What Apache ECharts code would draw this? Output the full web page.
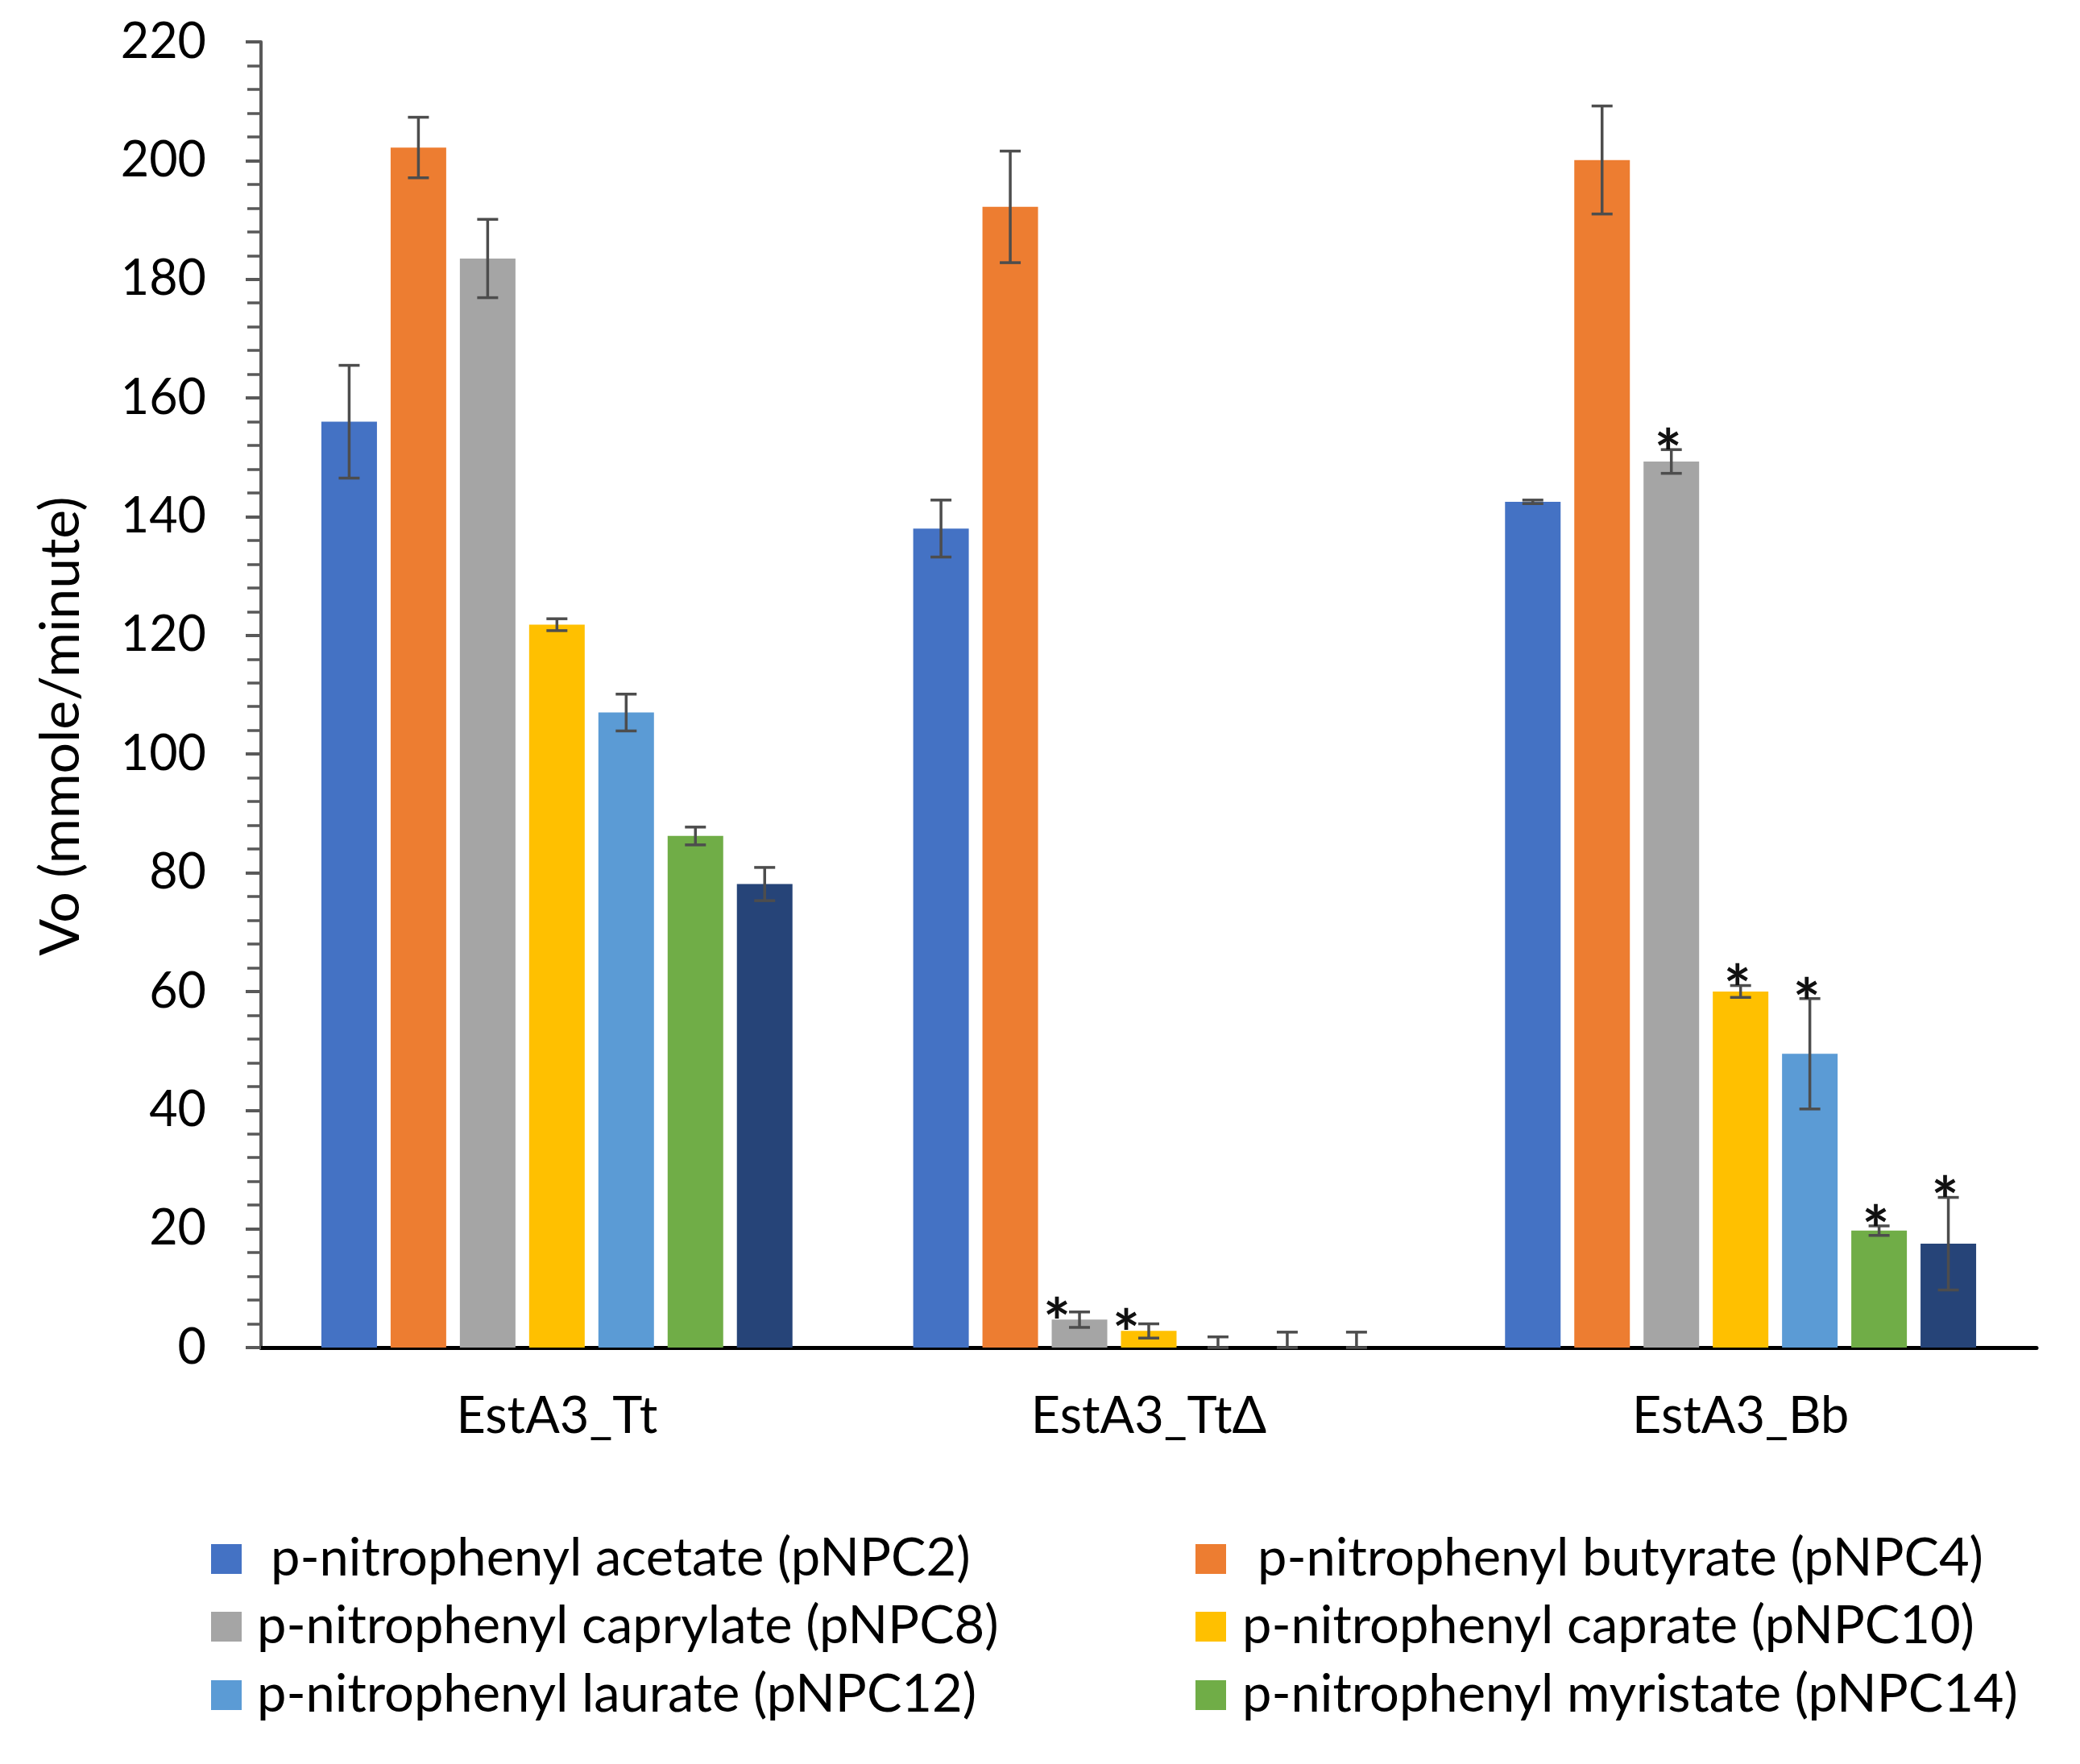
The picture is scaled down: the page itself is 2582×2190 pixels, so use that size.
<!DOCTYPE html>
<html>
<head>
<meta charset="utf-8">
<script src="https://cdn.jsdelivr.net/npm/echarts@6/dist/echarts.min.js"></script>
<style>html,body{margin:0;padding:0;background:#fff;}#chart{width:2582px;height:2190px;}</style>
</head>
<body>
<div id="chart"></div>
<script>
// ---- data ----
var categories = ['EstA3_Tt', 'EstA3_TtΔ', 'EstA3_Bb'];
var seriesNames = [
  'p-nitrophenyl acetate (pNPC2)',
  'p-nitrophenyl butyrate (pNPC4)',
  'p-nitrophenyl caprylate (pNPC8)',
  'p-nitrophenyl caprate (pNPC10)',
  'p-nitrophenyl laurate (pNPC12)',
  'p-nitrophenyl myristate (pNPC14)',
  'Series 7'
];
var valC2  = [156.0, 138.0, 142.5];
var valC4  = [202.2, 192.2, 200.1];
var valC8  = [183.5, 4.7, 149.3];
var valC10 = [121.8, 2.8, 60.0];
var valC12 = [107.0, 0.0, 49.5];
var valC14 = [86.2, 0.0, 19.7];
var valS7  = [78.1, 0.0, 17.5];

var errC2  = [9.5, 4.8, 0.3];
var errC4  = [5.1, 9.4, 9.1];
var errC8  = [6.6, 1.3, 2.0];
var errC10 = [1.0, 1.2, 1.0];
var errC12 = [3.1, 1.8, 9.3];
var errC14 = [1.5, 2.6, 0.8];
var errS7  = [2.8, 2.6, 7.8];

var starC2  = [0, 0, 0];
var starC4  = [0, 0, 0];
var starC8  = [0, 1, 1];
var starC10 = [0, 1, 1];
var starC12 = [0, 0, 1];
var starC14 = [0, 0, 1];
var starS7  = [0, 0, 1];

var yTicks = [0, 20, 40, 60, 80, 100, 120, 140, 160, 180, 200, 220];

var values = [valC2, valC4, valC8, valC10, valC12, valC14, valS7];
var errors = [errC2, errC4, errC8, errC10, errC12, errC14, errS7];
var stars  = [starC2, starC4, starC8, starC10, starC12, starC14, starS7];
var colors = ['#4472C4', '#ED7D31', '#A5A5A5', '#FFC000', '#5B9BD5', '#70AD47', '#264478'];

// ---- layout/style ----
var FONT = 'Lato';
var CAT_GAP = 0.204, BAR_GAP = 0.246, N = 7;

var series = [];
values.forEach(function (vals, i) {
  series.push({
    type: 'bar',
    name: seriesNames[i],
    data: vals,
    itemStyle: { color: colors[i] },
    barGap: (BAR_GAP * 100) + '%',
    barCategoryGap: (CAT_GAP * 100) + '%',
    z: 2
  });
});
values.forEach(function (vals, i) {
  var d = vals.map(function (v, c) {
    return [c, Math.max(0, v - errors[i][c]), v + errors[i][c], stars[i][c]];
  });
  series.push({
    type: 'custom',
    name: seriesNames[i] + ' err',
    data: d,
    encode: { x: 0, y: [1, 2] },
    z: 5,
    silent: true,
    renderItem: (function (si) {
      return function (params, api) {
        var c = api.value(0);
        var catW = api.size([1, 0])[0];
        var bw = catW * (1 - CAT_GAP) / (N + (N - 1) * BAR_GAP);
        var pitch = bw * (1 + BAR_GAP);
        var base = api.coord([c, 0]);
        var x = base[0] + (si - (N - 1) / 2) * pitch;
        var yl = api.coord([c, api.value(1)])[1];
        var yh = api.coord([c, api.value(2)])[1];
        var cap = 13;
        var st = { stroke: '#4d4d4d', lineWidth: 3.5 };
        var children = [
          { type: 'line', shape: { x1: x, y1: yl, x2: x, y2: yh }, style: st },
          { type: 'line', shape: { x1: x - cap, y1: yh, x2: x + cap, y2: yh }, style: st },
          { type: 'line', shape: { x1: x - cap, y1: yl, x2: x + cap, y2: yl }, style: st }
        ];
        if (api.value(3)) {
          var sx = x - 4, sy = yh + 8;
          if (c === 1) { sx = x - 28; sy = yh + 16; }
          children.push({
            type: 'text',
            style: { text: '*', x: sx, y: sy, align: 'center', verticalAlign: 'middle',
              font: 'bold 80px ' + FONT, fill: '#111' }
          });
        }
        return { type: 'group', children: children };
      };
    })(i)
  });
});

function legendItem(idx, left, top, padLeft) {
  return {
    data: [seriesNames[idx]],
    left: left, top: top, padding: 0,
    orient: 'vertical',
    icon: 'rect',
    itemWidth: 38, itemHeight: 37,
    selectedMode: false,
    textStyle: { fontFamily: FONT, fontSize: 65, lineHeight: 37, color: '#000', padding: [0, 0, 0, padLeft] }
  };
}

var option = {
  backgroundColor: '#fff',
  animation: false,
  grid: { left: 324, right: 54, top: 52, bottom: 517, containLabel: false },
  legend: [
    legendItem(0, 262, 1903, 31),
    legendItem(2, 262, 1987, 14),
    legendItem(4, 262, 2072, 14),
    legendItem(1, 1484, 1903, 34),
    legendItem(3, 1484, 1987, 15),
    legendItem(5, 1484, 2072, 15)
  ],
  xAxis: {
    type: 'category',
    data: categories,
    axisLine: { lineStyle: { color: '#000', width: 5 } },
    axisTick: { show: false },
    axisLabel: { fontFamily: FONT, fontSize: 63, color: '#000', margin: 54 }
  },
  yAxis: {
    type: 'value',
    min: yTicks[0], max: yTicks[yTicks.length - 1], interval: 20,
    name: 'Vo (mmole/minute)',
    nameLocation: 'middle',
    nameGap: 214,
    nameTextStyle: { fontFamily: FONT, fontSize: 68, color: '#000', padding: [0, 78, 0, 0] },
    axisLine: { show: true, lineStyle: { color: '#595959', width: 4 } },
    axisTick: { show: true, length: 19, lineStyle: { color: '#595959', width: 4 } },
    minorTick: { show: true, splitNumber: 5, length: 17, lineStyle: { color: '#595959', width: 3.5 } },
    splitLine: { show: false },
    axisLabel: { fontFamily: FONT, fontSize: 61, color: '#000', margin: 68 }
  },
  series: series
};

var chart = echarts.init(document.getElementById('chart'));
chart.setOption(option);
</script>
</body>
</html>
